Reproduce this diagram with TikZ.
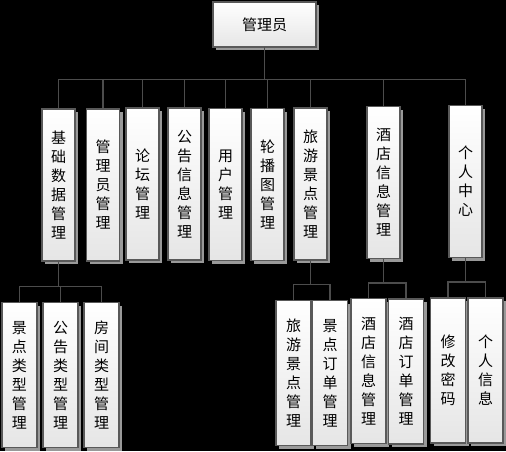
\documentclass[tikz,border=0pt]{standalone}
\usepackage{fontspec}
\newfontfamily\cjk{Noto Sans CJK SC}
\usetikzlibrary{shadows}
\begin{document}
\begin{tikzpicture}[x=1pt,y=-1pt,
  box/.style={draw=black!65, line width=1.2pt, top color=white, bottom color=black!10,
    inner sep=0pt, align=center, font=\cjk\fontsize{15}{19}\selectfont,
    drop shadow={shadow xshift=3pt, shadow yshift=-3pt, fill=black!40, opacity=1}},
  lv2/.style={box, minimum width=33pt, minimum height=152pt},
  lv3/.style={box, minimum width=35pt, minimum height=145pt},
  conn/.style={draw=black!70, line width=1.5pt}]
\fill[black] (0,0) rectangle (506,451);
\useasboundingbox (0,0) rectangle (506,451);

\node[box, minimum width=103pt, minimum height=45pt] (root) at (264.5,24.5) {管理员};

\node[lv2] (a1) at (58.5,185) {基\\础\\数\\据\\管\\理};
\node[lv2] (a2) at (103,185) {管\\理\\员\\管\\理};
\node[lv2] (a3) at (142.5,184) {论\\坛\\管\\理};
\node[lv2] (a4) at (184.5,184) {公\\告\\信\\息\\管\\理};
\node[lv2] (a5) at (225.5,184.5) {用\\户\\管\\理};
\node[lv2] (a6) at (267.5,184.5) {轮\\播\\图\\管\\理};
\node[lv2] (a7) at (310.5,184) {旅\\游\\景\\点\\管\\理};
\node[lv2] (a8) at (383.5,182.5) {酒\\店\\信\\息\\管\\理};
\node[lv2] (a9) at (465.5,181.5) {个\\人\\中\\心};

\node[lv3] (b1) at (19.5,375) {景\\点\\类\\型\\管\\理};
\node[lv3] (b2) at (60.5,375) {公\\告\\类\\型\\管\\理};
\node[lv3] (b3) at (101.5,375) {房\\间\\类\\型\\管\\理};
\node[lv3] (c1) at (293.5,373) {旅\\游\\景\\点\\管\\理};
\node[lv3] (c2) at (330,373) {景\\点\\订\\单\\管\\理};
\node[lv3] (d1) at (368.5,371) {酒\\店\\信\\息\\管\\理};
\node[lv3] (d2) at (406,371.5) {酒\\店\\订\\单\\管\\理};
\node[lv3] (e1) at (448,370.5) {修\\改\\密\\码};
\node[lv3] (e2) at (485.5,370.5) {个\\人\\信\\息};

\foreach \c in {a1,a2,a3,a4,a5,a6,a7,a8,a9}
  \draw[conn] (root.south) -- ++(0,32) -| (\c.north);
\foreach \c in {b1,b2,b3}
  \draw[conn] (a1.south) -- ++(0,25) -| (\c.north);
\foreach \c in {c1,c2}
  \draw[conn] (a7.south) -- ++(0,24) -| (\c.north);
\foreach \c in {d1,d2}
  \draw[conn] (a8.south) -- ++(0,24) -| (\c.north);
\foreach \c in {e1,e2}
  \draw[conn] (a9.south) -- ++(0,24) -| (\c.north);
\end{tikzpicture}
\end{document}
